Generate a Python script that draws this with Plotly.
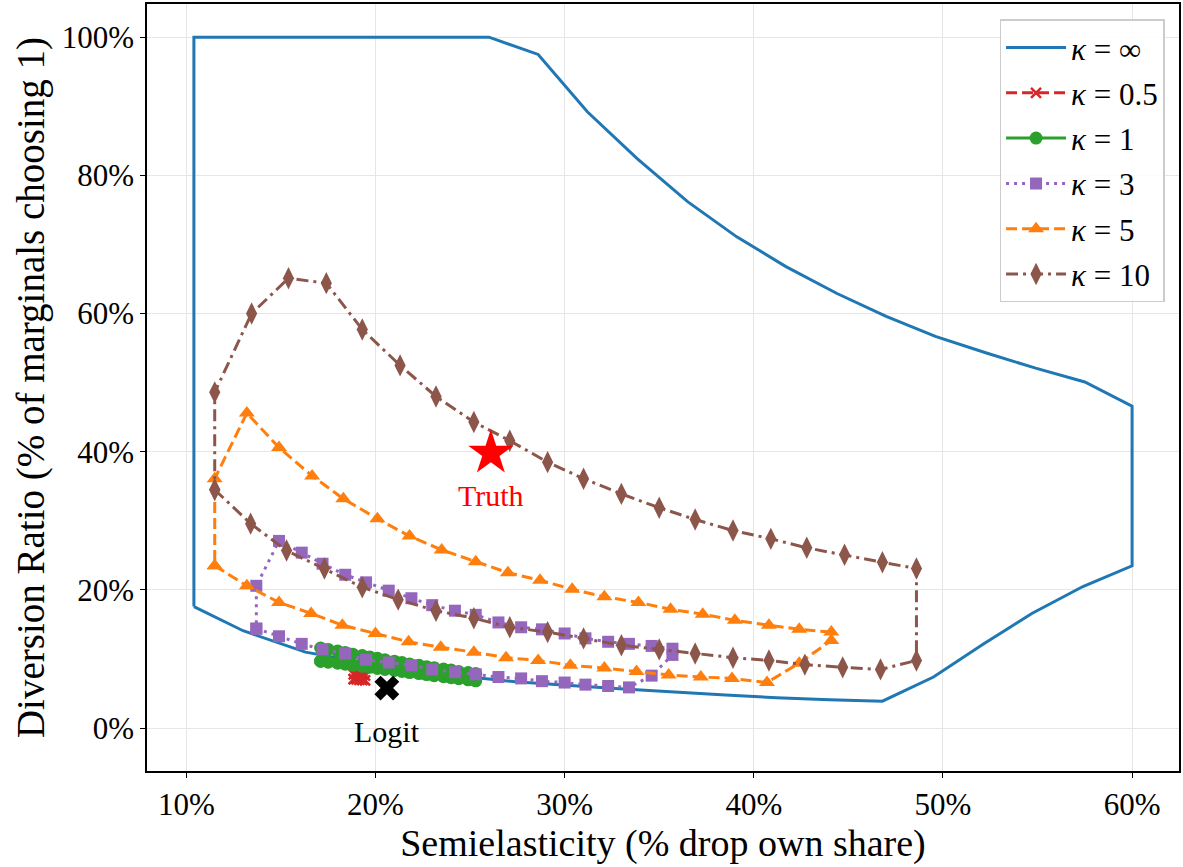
import plotly.graph_objects as go

# ---------------- data (percent units) ----------------
x_inf = [10.4, 10.4, 26.0, 28.6, 31.2, 33.85, 36.5, 39.1, 41.7, 44.4, 47.0, 49.6, 52.3, 54.9, 57.5, 60.0,
         60.0, 57.4, 54.7, 52.1, 49.5, 46.8, 44.0, 41.2, 38.5, 35.7, 32.9, 30.1, 27.4, 24.6, 21.8, 19.0, 16.3, 13.0, 10.4]
y_inf = [17.6, 100.0, 100.0, 97.5, 89.2, 82.4, 76.2, 71.1, 66.8, 62.9, 59.6, 56.7, 54.3, 52.1, 50.1, 46.6,
         23.5, 20.5, 16.6, 12.1, 7.4, 3.9, 4.1, 4.4, 4.8, 5.2, 5.7, 6.2, 6.7, 7.5, 8.5, 9.7, 11.0, 14.1, 17.6]

# kappa = 0.5
x_k05 = [18.85, 19.0, 19.15, 19.3, 19.45, 19.45, 19.3, 19.15, 19.0, 18.85, 18.85]
y_k05 = [7.1, 7.05, 7.0, 6.95, 6.9, 7.6, 7.65, 7.7, 7.75, 7.8, 7.1]

# kappa = 1
x_k1 = [17.1, 17.5, 18.0, 18.4, 18.8, 19.3, 19.7, 20.1, 20.5, 21.0, 21.4, 21.8, 22.3, 22.7, 23.1, 23.6, 24.0, 24.4, 24.9, 25.3]
y_k1_lo = [9.7, 9.55, 9.4, 9.25, 9.1, 8.95, 8.8, 8.65, 8.5, 8.35, 8.2, 8.05, 7.9, 7.75, 7.6, 7.45, 7.3, 7.15, 7.0, 6.85]
y_k1_hi = [11.6, 11.4, 11.15, 10.95, 10.7, 10.5, 10.3, 10.1, 9.9, 9.7, 9.5, 9.3, 9.1, 8.9, 8.75, 8.55, 8.4, 8.2, 8.05, 7.9]

# kappa = 3
x_k3 = [13.7, 14.9, 16.1, 17.2, 18.4, 19.5, 20.7, 21.9, 23.0, 24.2, 25.3, 26.5, 27.7, 28.8, 30.0, 31.1, 32.3, 33.4, 34.6, 35.7]
y_k3_lo = [14.4, 13.3, 12.2, 11.4, 10.8, 9.9, 9.5, 9.1, 8.5, 8.1, 7.8, 7.4, 7.2, 6.8, 6.6, 6.3, 6.1, 5.9, 7.6, 10.6]
y_k3_hi = [20.6, 27.1, 25.4, 23.8, 22.2, 21.1, 19.9, 18.8, 17.8, 17.0, 16.4, 15.3, 14.6, 14.3, 13.7, 13.0, 12.5, 12.2, 11.9, 11.5]

# kappa = 5
x_k5_lo = [11.5, 13.2, 14.9, 16.6, 18.25, 20.0, 21.75, 23.45, 25.2, 26.9, 28.6, 30.3, 32.1, 33.8, 35.5, 37.2, 38.85, 40.7, 42.4, 44.1]
y_k5_lo = [23.5, 20.6, 18.2, 16.6, 14.9, 13.7, 12.5, 11.7, 11.0, 10.2, 9.8, 9.1, 8.7, 8.2, 7.7, 7.4, 7.2, 6.6, 9.4, 12.7]
x_k5_hi = [11.5, 13.2, 14.9, 16.65, 18.3, 20.1, 21.8, 23.5, 25.3, 27.0, 28.7, 30.4, 32.1, 33.9, 35.6, 37.3, 39.0, 40.8, 42.4, 44.1]
y_k5_hi = [36.1, 45.6, 40.6, 36.5, 33.2, 30.3, 27.8, 25.8, 24.1, 22.5, 21.4, 20.1, 19.0, 18.2, 17.2, 16.5, 15.6, 14.9, 14.3, 13.9]

# kappa = 10
x_k10_lo = [11.5, 13.4, 15.3, 17.3, 19.3, 21.2, 23.2, 25.2, 27.1, 29.1, 31.0, 33.0, 35.0, 36.9, 38.9, 40.8, 42.7, 44.7, 46.7, 48.6]
y_k10_lo = [34.5, 29.6, 25.7, 23.1, 20.4, 18.6, 17.0, 15.9, 14.6, 13.9, 13.0, 12.0, 11.4, 10.8, 10.2, 9.8, 9.2, 8.8, 8.5, 9.8]
x_k10_hi = [11.5, 13.45, 15.4, 17.4, 19.3, 21.3, 23.2, 25.2, 27.1, 29.1, 31.0, 33.0, 35.0, 36.9, 38.9, 40.9, 42.8, 44.8, 46.8, 48.6]
y_k10_hi = [48.6, 60.0, 65.1, 64.4, 57.7, 52.5, 48.0, 44.3, 41.6, 38.5, 36.1, 33.9, 31.9, 30.2, 28.6, 27.4, 26.1, 25.1, 24.0, 23.1]

logit_x, logit_y = [20.6], [5.8]
truth_x, truth_y = [26.1], [39.8]

x_ticks = [10, 20, 30, 40, 50, 60]
y_ticks = [0, 20, 40, 60, 80, 100]

FONT = "Liberation Serif"

def loop(xl, yl, xh, yh):
    xs = list(xl) + list(reversed(xh)) + [xl[0]]
    ys = list(yl) + list(reversed(yh)) + [yl[0]]
    return xs, ys

fig = go.Figure()

fig.add_trace(go.Scatter(x=x_inf, y=y_inf, mode="lines", name="<i>κ</i> = ∞",
                         line=dict(color="#1f77b4", width=3), legendgroup="a"))

fig.add_trace(go.Scatter(x=x_k05, y=y_k05, mode="lines+markers", name="<i>κ</i> = 0.5",
                         line=dict(color="#d62728", width=3, dash="11px,5px"),
                         marker=dict(symbol="x-thin", size=10, line=dict(color="#d62728", width=2.5)),
                         legendgroup="b"))

xs, ys = loop(x_k1, y_k1_lo, x_k1, y_k1_hi)
fig.add_trace(go.Scatter(x=xs, y=ys, mode="lines+markers", name="<i>κ</i> = 1",
                         line=dict(color="#2ca02c", width=3),
                         marker=dict(symbol="circle", size=13, color="#2ca02c"), legendgroup="c"))

xs, ys = loop(x_k3, y_k3_lo, x_k3, y_k3_hi)
fig.add_trace(go.Scatter(x=xs, y=ys, mode="lines+markers", name="<i>κ</i> = 3",
                         line=dict(color="#9467bd", width=3, dash="3px,5px"),
                         marker=dict(symbol="square", size=12, color="#9467bd"), legendgroup="d"))

xs, ys = loop(x_k5_lo, y_k5_lo, x_k5_hi, y_k5_hi)
fig.add_trace(go.Scatter(x=xs, y=ys, mode="lines+markers", name="<i>κ</i> = 5",
                         line=dict(color="#ff7f0e", width=3, dash="11px,5px"),
                         marker=dict(symbol="triangle-up", size=14, color="#ff7f0e"), legendgroup="e"))

xs, ys = loop(x_k10_lo, y_k10_lo, x_k10_hi, y_k10_hi)
fig.add_trace(go.Scatter(x=xs, y=ys, mode="lines+markers", name="<i>κ</i> = 10",
                         line=dict(color="#8c564b", width=3, dash="12px,5px,3px,5px"),
                         marker=dict(symbol="diamond-tall", size=16, color="#8c564b"), legendgroup="f"))

fig.add_trace(go.Scatter(x=logit_x, y=logit_y, mode="markers", showlegend=False,
                         marker=dict(symbol="x", size=22, color="black")))
fig.add_trace(go.Scatter(x=truth_x, y=truth_y, mode="markers", showlegend=False,
                         marker=dict(symbol="star", size=34, color="red")))

fig.add_annotation(x=logit_x[0], y=logit_y[0], text="Logit", showarrow=False, yshift=-43,
                   font=dict(family=FONT, size=30, color="black"))
fig.add_annotation(x=truth_x[0], y=truth_y[0], text="Truth", showarrow=False, yshift=-42,
                   font=dict(family=FONT, size=30, color="red"))

axis_common = dict(showline=True, linecolor="black", linewidth=1.5, mirror=True,
                   ticks="outside", ticklen=5, tickcolor="black", tickwidth=1.2,
                   showgrid=True, gridcolor="#e6e6e6", gridwidth=1.2, zeroline=False,
                   tickfont=dict(family=FONT, size=31, color="black"))

fig.update_layout(
    width=1183, height=867,
    margin=dict(l=147, r=2, t=2, b=96),
    paper_bgcolor="white", plot_bgcolor="white",
    font=dict(family=FONT, size=30, color="black"),
    xaxis=dict(range=[7.92, 62.48], tickmode="array", tickvals=x_ticks,
               ticktext=[f"{v}%" for v in x_ticks],
               title=dict(text="Semielasticity (% drop own share)", font=dict(family=FONT, size=38), standoff=4),
               **axis_common),
    yaxis=dict(range=[-6.2, 104.8], tickmode="array", tickvals=y_ticks,
               ticktext=[f"{v}%" for v in y_ticks],
               title=dict(text="Diversion Ratio (% of marginals choosing 1)", font=dict(family=FONT, size=39), standoff=5),
               **axis_common),
    legend=dict(x=0.986, y=0.98, xanchor="right", yanchor="top",
                bgcolor="rgba(255,255,255,0.85)", bordercolor="#cccccc", borderwidth=1.5,
                font=dict(family=FONT, size=31), itemwidth=60, tracegroupgap=2),
)

fig.write_html("out.html")
